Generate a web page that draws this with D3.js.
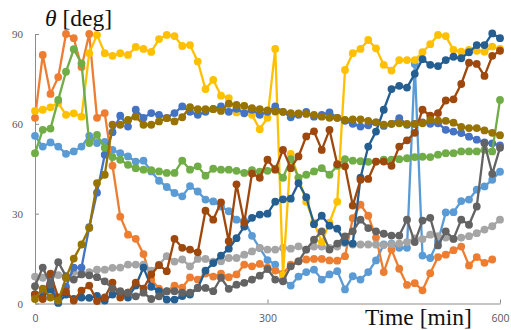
<!DOCTYPE html>
<html>
<head>
<meta charset="utf-8">
<script src="https://cdn.jsdelivr.net/npm/d3@7"></script>
<style>
  html, body { margin: 0; padding: 0; background: #fff; }
  svg { display: block; }
</style>
</head>
<body>
<svg id="chart" width="511" height="330"></svg>
<script>
// Sampling times (min)
const minutes = [0,10,20,30,40,50,60,70,80,90,100,110,120,130,140,150,160,170,180,190,200,
  210,220,230,240,250,260,270,280,290,300,310,320,330,340,350,360,370,380,390,400,
  410,420,430,440,450,460,470,480,490,500,510,520,530,540,550,560,570,580,590,600];

// Angle series (deg)
const sLightBlue = [56,52.4,53.8,52.4,50,50.8,52.4,56,53.6,54,51.3,50.2,49.1,47.4,47.7,44.1,41,38.9,36.9,35.8,39.2,
  37.4,34.7,34.1,32.4,30.8,28,27.7,22.6,18.5,14.5,13,8,6,9,10.5,11.3,8,9.7,10.8,4.7,
  9.1,8,10.5,14.4,19.7,20,18.6,18.6,80,16,15.2,20.8,30.4,30.5,34.2,34.7,38,39.1,41.3,44];
const sOrange = [62,83,70,75.6,90,88.6,79,90,62,63.6,46,29,23,21.6,16.5,8,5,4,6,5.3,8.7,
  8,10,9,10,8.8,9.7,13,12.4,13.2,12,11,10,13,14.1,14.7,14.9,14.9,14.4,14.3,15.8,
  28.5,33,29.3,22,10.5,18,11.6,6.2,6.8,4.4,10.1,15.5,16.3,17.8,19,12.7,15.5,13.6,14.7,null];
const sGray = [9,8.6,8.8,9.5,8.6,10.5,10,10.5,11.3,11.3,11.9,12,13,13,13,11,13,15.8,14,14.7,12.4,
  14.9,14.9,14,14.1,15.2,15.2,16.3,17.4,18.6,18,18,18.6,18.3,19.1,18,19,19,18.6,19,20.2,
  19.7,19.7,19.7,19.7,19.5,19.8,20,20.5,21.7,21.5,23,22.5,22,21.5,22,22.5,23.5,24.7,25.8,28];
const sGold = [64.3,64.7,65.5,67,63,63.5,62.4,83.6,89.7,83.6,82.7,83.6,83,85.7,85,84,88.3,89.7,89.3,86,86.3,
  80.8,71.6,74.7,69.4,68.6,63.8,66,63,58.2,62,85,9.5,50,42,34,27,20.5,27,34,78,
  83.6,85,88,85.2,79.7,77.8,81.3,81.3,81.3,83.9,86.6,89.7,89.3,84.7,84.1,84.7,84.4,84.1,85.8,85];
const sBlue = [3,4,7,0.5,5.6,12,12,25.5,37,49.7,57.2,62.7,59.1,64.7,62,63.6,63,62,63.6,65.8,64,
  63,64,65,65.8,64,65,63.5,64.7,63,64,65.8,64,62.2,63,64,62.4,63,63.8,62,61,
  60,59.1,59.5,60.5,59.3,60,61.9,59.7,60,60.5,60,60.2,58,57.4,56.9,55.7,54.7,53.8,53.5,52.8];
const sGreen = [50.2,58,58.4,68,77.4,84.9,80.2,53.6,56.3,52,48.9,48,46.3,45.2,44.7,44.5,44.1,43.6,43.6,47.7,44.7,
  45.8,42.7,45,44.7,44.7,44.3,43.6,44.5,44,44.3,45,42,48.2,42,43,44.1,45.2,43,46,48.2,
  47.7,47.5,47.3,47.4,48,48,48.2,48.5,48.9,49,48.9,49.7,50.2,50.2,50.8,50.8,50.8,51.3,50.8,68];
const sDarkBlue = [3,2,4.7,0.2,3,1.5,2,1.9,2.5,1,3,3.6,2,6,12,5.6,4.1,1.3,1.3,2.5,3,
  5.2,11,13.5,16,18.3,21.8,25.7,28.6,29.7,30,34,34.8,35,40.2,35.5,26.5,29.3,26,25,20.5,
  20,42,52.4,57.4,64.7,71.6,72.7,72.1,76.7,81.6,79.7,79.3,81.3,82.4,81.9,83.9,86.3,86.3,90.2,88.6];
const sBrown = [3,1.5,10,2,4,1,4.3,6,0.8,2,7,2,3.6,7,5,9.7,12.8,10.8,21.6,18.6,18,
  17.1,31,28,33.8,20.8,39.8,27,43.4,42,48,44.7,51.3,45.2,49.1,55.8,57.5,51.3,58,46.5,45.8,
  32.7,41.3,41.6,47.4,47.4,46,52.4,54.5,57,64.7,62.7,63.6,67.8,68.2,73.3,80.4,80,76,82.7,84.4];
const sDarkGray = [5.8,12,6.3,13.8,9.1,8,9.7,9.4,8.8,7.4,5,4.1,3.6,2.4,3.6,1.5,2.4,4.1,4.1,3.6,3.6,
  5.2,5.2,4.1,8.6,4.9,6.3,6.9,8,9.3,11.5,8,7.4,12.4,14.1,18,21.3,24.1,18,20,22.4,
  24.1,28,25.2,24.1,23.3,22.7,22.7,28,20.5,27.7,28.6,19.4,24.1,21.6,28,26.3,32.4,53.5,43.3,52];
const sOlive = [1.5,5,2,1,8.6,15,19.7,25.2,40.2,43,59.7,59.7,61.3,62.4,59.7,59.7,60.8,61.9,60.8,62.2,65.6,
  64.9,64.9,64.9,64.3,66.7,66.3,66,65.2,64.9,64.5,64.1,64,63.6,63.5,63.3,63,62.4,62,62,61.3,
  61.5,61.5,61,60.5,59.7,60,60.2,60,60,60.2,61.3,61.1,61,60.4,59,58.6,58.6,57.8,57,56.2];

// Series in drawing order with their colours
const seriesList = [
  { values: sLightBlue, color: "#5B9BD5" },
  { values: sOrange,    color: "#ED7D31" },
  { values: sGray,      color: "#A5A5A5" },
  { values: sGold,      color: "#FFC000" },
  { values: sBlue,      color: "#4472C4" },
  { values: sGreen,     color: "#70AD47" },
  { values: sDarkBlue,  color: "#255E91" },
  { values: sBrown,     color: "#9E480E" },
  { values: sDarkGray,  color: "#636363" },
  { values: sOlive,     color: "#997300" }
];

const xTicks = [0, 300, 600];
const yTicks = [0, 30, 60, 90];

const svg = d3.select("#chart");
const x = d3.scaleLinear().domain([0, 600]).range([35, 500]);
const y = d3.scaleLinear().domain([0, 90]).range([303.5, 34]);

// Axes
const axisColor = "#8c8c8c";
const gy = svg.append("g").attr("transform", "translate(35,0)")
  .call(d3.axisLeft(y).tickValues(yTicks).tickSizeInner(-4).tickSizeOuter(0).tickPadding(12));
const gx = svg.append("g").attr("transform", "translate(0,303.5)")
  .call(d3.axisBottom(x).tickValues(xTicks).tickSizeInner(-4).tickSizeOuter(0).tickPadding(11));
[gy, gx].forEach(g => {
  g.select(".domain").attr("stroke", axisColor);
  g.selectAll(".tick line").attr("stroke", axisColor);
  g.selectAll(".tick text").attr("fill", "#595959").style("font-size", "11px");
});
gy.selectAll(".tick text").style("font-family", "'Liberation Serif', serif");
gx.selectAll(".tick text").style("font-family", "'Open Sans', sans-serif").style("font-size", "10.5px");

// Lines and markers
const line = d3.line()
  .defined(d => d[1] !== null)
  .x(d => x(d[0]))
  .y(d => y(d[1]));

seriesList.forEach(s => {
  const pts = minutes.map((m, i) => [m, s.values[i]]);
  const g = svg.append("g");
  g.append("path")
    .attr("d", line(pts))
    .attr("fill", "none")
    .attr("stroke", s.color)
    .attr("stroke-width", 2.3)
    .attr("stroke-linejoin", "round");
  g.selectAll("circle")
    .data(pts.filter(d => d[1] !== null))
    .join("circle")
    .attr("cx", d => x(d[0]))
    .attr("cy", d => y(d[1]))
    .attr("r", 3.9)
    .attr("fill", s.color);
});

// Axis titles
const yTitle = svg.append("text")
  .attr("x", 45).attr("y", 26)
  .style("font-family", "'Liberation Serif', 'Times New Roman', serif")
  .style("font-size", "23.5px")
  .attr("fill", "#111");
yTitle.append("tspan").style("font-style", "italic").text("θ");
yTitle.append("tspan").text(" [deg]");

svg.append("text")
  .attr("x", 365).attr("y", 325)
  .style("font-family", "'Liberation Serif', 'Times New Roman', serif")
  .style("font-size", "23.5px")
  .attr("fill", "#111")
  .text("Time [min]");
</script>
</body>
</html>
